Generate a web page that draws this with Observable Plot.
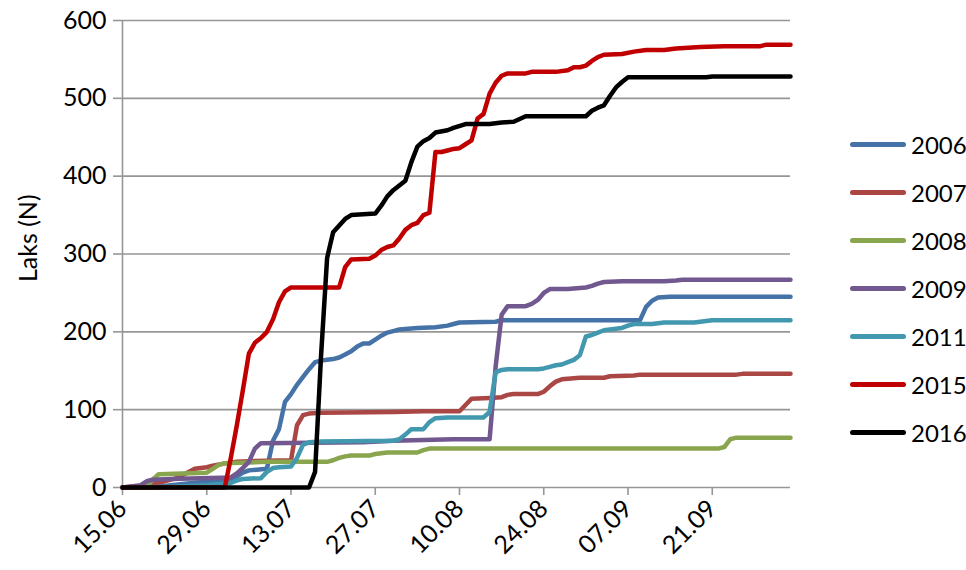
<!DOCTYPE html>
<html><head><meta charset="utf-8">
<script src="https://cdn.jsdelivr.net/npm/d3@7"></script>
<script src="https://cdn.jsdelivr.net/npm/@observablehq/plot@0.6"></script>
<style>
body{margin:0;background:#fff;}
#wrap{position:relative;width:966px;height:570px;font-family:Lato,"Open Sans",sans-serif;}
#legend .item{position:absolute;left:850px;height:28px;display:flex;align-items:center;font-size:24px;color:#000;}
#legend .sw{display:inline-block;width:56px;height:5px;border-radius:3px;margin-right:5px;}
</style></head><body><div id="wrap"><div id="legend"></div></div>
<script>
const series = ["2006","2007","2008","2009","2011","2015","2016"];
const colors = ["#4572A7","#AA4643","#89A54E","#71588F","#4198AF","#C00000","#000000"];
const tickDays = [0,14,28,42,56,70,84,98];
const tickLabels = ["15.06","29.06","13.07","27.07","10.08","24.08","07.09","21.09"];
const yTicks = [0,100,200,300,400,500,600];

const days2006 = [0,5,8,12,15,18,19,20,21,24,25,26,27,28,29,30,31,32,33,34,35,36,37,38,39,40,41,42,43,44,45,46,49,52,54,55,56,62,63,86,87,88,89,91,111];
const laks2006 = [0,0,3,6,8,9,14,19,22,24,60,75,110,120,132,142,152,161,163,164,165,167,171,175,181,185,185,190,195,199,201,203,205,206,208,210,212,213,215,215,232,240,244,245,245];

const days2007 = [0,3,6,9,11,12,14,15,17,19,22,28,29,30,31,33,45,50,56,57,58,61,63,64,65,69,70,71,72,73,76,80,81,85,86,102,103,111];
const laks2007 = [0,2,6,12,20,24,26,28,31,33,34,35,80,93,95,96,97,98,98,106,114,115,116,119,120,120,123,130,136,139,141,141,143,144,145,145,146,146];

const days2008 = [0,4,5,6,14,15,16,17,24,34,35,36,37,38,41,42,43,44,49,50,51,98,99,100,101,102,111];
const laks2008 = [0,1,10,17,19,24,29,31,33,33,35,38,40,41,41,43,44,45,45,48,50,50,50,52,62,64,64];

const days2009 = [0,3,4,5,8,13,18,19,20,21,22,23,40,45,50,55,61,62,63,64,67,68,69,70,71,74,77,78,79,80,83,90,92,93,111];
const laks2009 = [0,3,8,10,11,12,13,18,25,33,50,57,58,60,61,62,62,155,222,233,233,236,241,250,255,255,257,259,262,264,265,265,266,267,267];

const days2011 = [0,8,14,17,18,19,20,23,24,25,26,28,29,30,31,33,45,46,47,48,50,51,52,54,60,61,62,63,64,69,70,71,72,73,74,75,76,77,78,79,80,82,83,84,85,88,89,90,95,97,98,111];
const laks2011 = [0,1,3,5,6,9,11,12,20,25,26,27,38,55,58,59,60,62,68,75,75,84,89,90,90,97,148,151,152,152,153,155,157,158,161,164,170,194,196,199,202,204,205,208,210,210,211,212,212,214,215,215];

const days2015 = [0,17,18,19,20,21,22,23,24,25,26,27,28,36,37,38,41,42,43,44,45,46,47,48,49,50,51,52,53,54,55,56,57,58,59,60,61,62,63,64,67,68,72,74,75,76,77,78,79,80,83,85,87,90,92,96,100,106,107,111];
const laks2015 = [0,0,38,80,125,172,186,192,200,216,238,252,257,257,283,293,294,298,305,309,311,320,331,337,340,350,353,431,431,433,435,436,441,446,474,480,506,520,529,532,532,534,534,536,540,540,542,548,553,556,557,560,562,562,564,566,567,567,569,569];

const days2016 = [0,31,32,33,34,35,37,38,42,43,44,45,47,48,49,50,51,52,54,55,57,61,63,65,67,77,78,79,80,81,82,83,84,97,98,111];
const laks2016 = [0,0,20,170,295,328,345,350,352,362,374,382,394,418,438,445,449,456,459,462,467,467,469,470,477,477,484,488,491,503,514,521,527,527,528,528];

const allDays = [days2006,days2007,days2008,days2009,days2011,days2015,days2016];
const allLaks = [laks2006,laks2007,laks2008,laks2009,laks2011,laks2015,laks2016];
const rows = [];
series.forEach((s, k) => allDays[k].forEach((d, i) => rows.push({series: s, day: d, laks: allLaks[k][i]})));

const gray = "#969696";
const font = 'Lato, "Open Sans", sans-serif';
const fs = 25;
const chart = Plot.plot({
  width: 966, height: 570,
  marginLeft: 122, marginRight: 176, marginTop: 20, marginBottom: 83,
  style: {fontFamily: font, fontSize: fs + "px", color: "#000", background: "#fff"},
  x: {domain: [0, 111], axis: null},
  y: {domain: [0, 600], axis: null},
  color: {domain: series, range: colors},
  marks: [
    Plot.gridY(yTicks, {stroke: gray, strokeOpacity: 1, strokeWidth: 1.6}),
    Plot.ruleX([0], {stroke: gray, strokeWidth: 1.6}),
    Plot.axisY(yTicks, {anchor: "left", tickSize: 9, tickPadding: 7, stroke: gray, strokeWidth: 1.6, fill: "#000", fontSize: fs, label: null, tickFormat: d => String(d)}),
    Plot.axisX(tickDays, {anchor: "bottom", tickSize: 8, tickPadding: 9, tickRotate: -45, stroke: gray, strokeWidth: 1.6, fill: "#000", fontSize: fs, label: null, tickFormat: d => tickLabels[tickDays.indexOf(d)]}),
    Plot.line(rows, {x: "day", y: "laks", z: "series", stroke: "series", strokeWidth: 4.5, strokeLinejoin: "round", strokeLinecap: "round"}),
    Plot.text(["Laks (N)"], {frameAnchor: "left", dx: -94, dy: 28, rotate: -90, fontSize: fs, fill: "#000"})
  ]
});
const wrap = document.getElementById("wrap");
wrap.insertBefore(chart, wrap.firstChild);

const legend = document.getElementById("legend");
series.forEach((s, i) => {
  const item = document.createElement("div");
  item.className = "item";
  item.style.top = (144 + 48 * i - 14) + "px";
  const sw = document.createElement("span");
  sw.className = "sw";
  sw.style.background = colors[i];
  item.appendChild(sw);
  item.appendChild(document.createTextNode(s));
  legend.appendChild(item);
});
</script>
</body></html>
